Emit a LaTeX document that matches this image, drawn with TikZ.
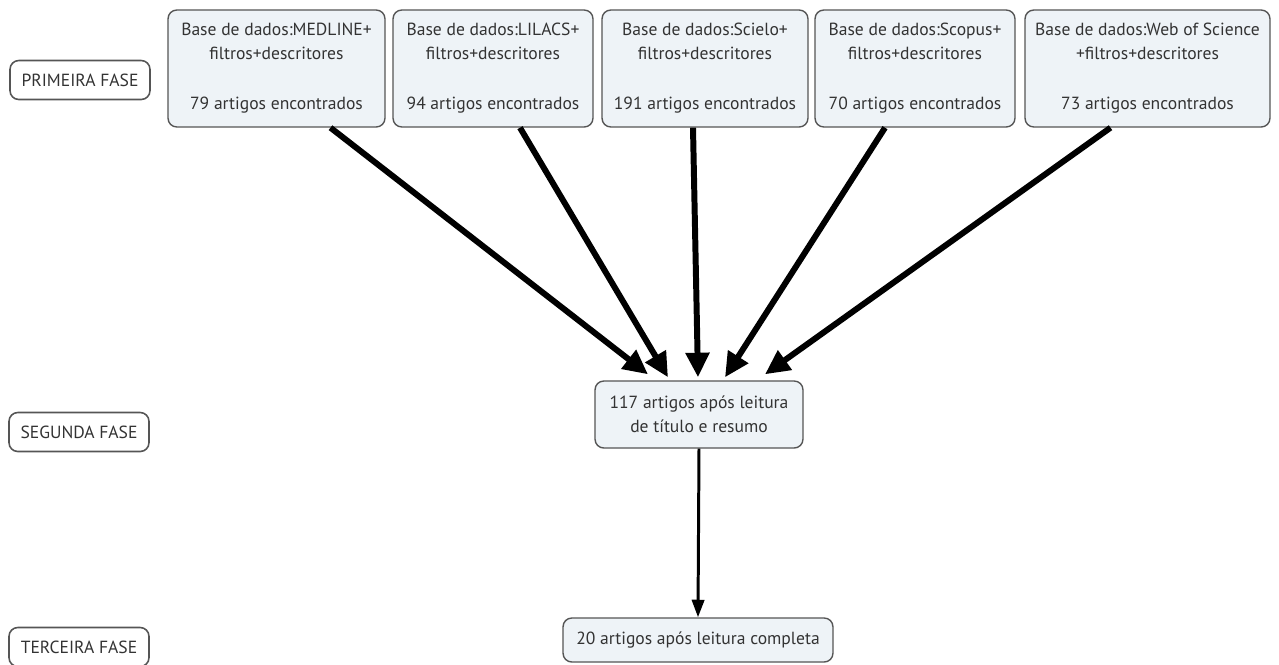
\documentclass[tikz,border=0pt]{standalone}
\usepackage{fontspec}
\setmainfont{PT Sans}
\usetikzlibrary{arrows.meta}
\definecolor{boxfill}{HTML}{EEF3F7}
\definecolor{boxline}{HTML}{555555}
\definecolor{textgrey}{HTML}{333333}
\begin{document}
\begin{tikzpicture}[x=0.02cm,y=-0.02cm,
  fase/.style={draw=boxline, fill=white, rounded corners=5pt, line width=0.9pt,
    minimum width=2.8cm, minimum height=0.78cm, text=textgrey, font=\fontsize{10}{12}\selectfont, inner sep=2pt},
  base/.style={draw=boxline, fill=boxfill, rounded corners=5pt, line width=0.8pt,
    minimum height=2.34cm, text=textgrey, align=center, font=\fontsize{10}{13.6}\selectfont, inner sep=2pt},
  etapa/.style={draw=boxline, fill=boxfill, rounded corners=5pt, line width=0.8pt,
    text=textgrey, align=center, font=\fontsize{10}{13.6}\selectfont, inner sep=2pt},
  grossa/.style={line width=3.4pt, -{Triangle[length=14pt,width=13pt]}},
  fina/.style={line width=1.7pt, -{Triangle[length=10pt,width=7pt]}}]
\useasboundingbox (0,0) rectangle (1279,664);

% fases
\node[fase] (f1) at (80,80) {PRIMEIRA FASE};
\node[fase] (f2) at (79,432) {SEGUNDA FASE};
\node[fase] (f3) at (79,647) {TERCEIRA FASE};

% bases de dados
\node[base, minimum width=4.34cm] (db1) at (276.5,68.5) {Base de dados:MEDLINE+\\filtros+descritores\\[15pt]79 artigos encontrados};
\node[base, minimum width=4cm] (db2) at (493,68.5) {Base de dados:LILACS+\\filtros+descritores\\[15pt]94 artigos encontrados};
\node[base, minimum width=4.12cm] (db3) at (705,68.5) {Base de dados:Scielo+\\filtros+descritores\\[15pt]191 artigos encontrados};
\node[base, minimum width=4cm] (db4) at (915,68.5) {Base de dados:Scopus+\\filtros+descritores\\[15pt]70 artigos encontrados};
\node[base, minimum width=4.9cm] (db5) at (1147.5,68.5) {Base de dados:Web of Science\\+filtros+descritores\\[15pt]73 artigos encontrados};

\node[etapa, minimum width=4.16cm, minimum height=1.34cm] (mid) at (699,414.5) {117 artigos após leitura\\de título e resumo};
\node[etapa, minimum width=5.4cm, minimum height=0.88cm] (fim) at (698,640) {20 artigos após leitura completa};

% setas
\draw[grossa] ([xshift=1.08cm]db1.south) -- ([xshift=-1.02cm,yshift=0.12cm]mid.north);
\draw[grossa] ([xshift=0.54cm]db2.south) -- ([xshift=-0.62cm,yshift=0.06cm]mid.north);
\draw[grossa] ([xshift=-0.24cm]db3.south) -- ([xshift=-0.02cm,yshift=0.06cm]mid.north);
\draw[grossa] ([xshift=-0.6cm]db4.south) -- ([xshift=0.52cm,yshift=0.06cm]mid.north);
\draw[grossa] ([xshift=-0.74cm]db5.south) -- ([xshift=1.32cm,yshift=0.12cm]mid.north);
\draw[fina] (mid.south) -- (fim.north);
\end{tikzpicture}
\end{document}
